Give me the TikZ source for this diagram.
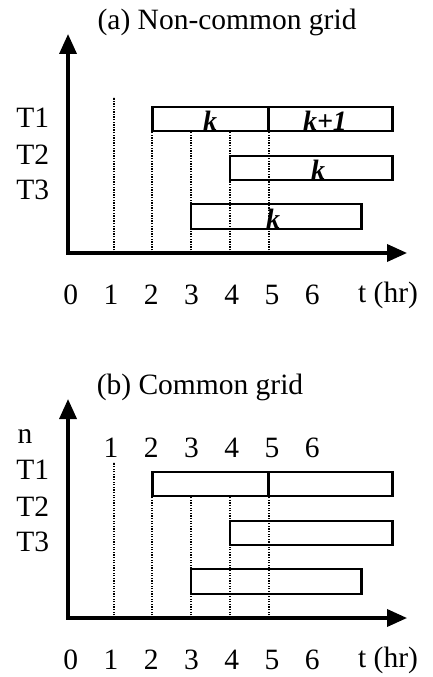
\documentclass[tikz,border=0pt]{standalone}
\usepackage{fontspec}
\setmainfont{Liberation Serif}
\usetikzlibrary{arrows.meta}
\begin{document}
\begin{tikzpicture}[x=38.7pt,y=1pt,
  axis/.style={line width=3.5pt,{Triangle[length=20pt,width=17pt]}-{Triangle[length=20pt,width=17pt]}},
  job/.style={draw,line width=2.6pt},
  gridline/.style={dash pattern=on 1.3pt off 1.3pt,line width=2pt},
  lbl/.style={font=\fontsize{29.5}{32}\selectfont,inner sep=0pt},
  kk/.style={font=\fontsize{28}{30}\selectfont\bfseries\itshape,anchor=base,inner sep=0pt}]
\useasboundingbox (-75pt,-424pt) rectangle (357pt,253pt);
% both panels share axes, jobs, grid lines and time labels
\foreach \p/\dy/\ttl/\tx in {a/0/{(a) Non-common grid}/3.93, b/-365/{(b) Common grid}/3.23} {
  \begin{scope}[yshift=\dy pt]
    \coordinate (\p-o) at (-0.18,0);
    \coordinate (\p-y) at (-0.18,219);
    \coordinate (\p-x) at (8.58,0);
    \draw[axis] (\p-y) -- (\p-o) -- (\p-x);
    % grid lines
    \draw[gridline] (1,0) -- (1,156);
    \foreach \g in {2,...,5} {\draw[gridline] (\g,0) -- (\g,122);}
    % tasks
    \draw[job] (2,122) rectangle (8.2,146);
    \draw[job] (5,122) -- (5,146);
    \draw[job] (4,73) rectangle (8.2,97);
    \draw[job] (3,24) rectangle (7.4,49);
    % time axis labels
    \foreach \i in {0,...,6} {\node[lbl] (\p-t\i) at (\i*1.04-0.11,-42) {\i};}
    \node[lbl] (\p-hr) at (8.09,-42) {t (hr)};
    \node[lbl] (\p-title) at (\tx,231) {\ttl};
  \end{scope}
}
% (a) task labels and k indices
\node[lbl] (a-T1) at (-1.09,135) {T1};
\node[lbl] (a-T2) at (-1.09,98) {T2};
\node[lbl] (a-T3) at (-1.09,63) {T3};
\node[kk] (a-k1) at (3.49,122) {k};
\node[kk] (a-k2) at (6.46,122) {k+1};
\node[kk] (a-k3) at (6.28,73) {k};
\node[kk] (a-k4) at (5.12,24) {k};
% (b) common grid points
\begin{scope}[yshift=-365pt]
  \node[lbl] (b-n) at (-1.29,181) {n};
  \node[lbl] (b-T1) at (-1.09,148) {T1};
  \node[lbl] (b-T2) at (-1.09,111) {T2};
  \node[lbl] (b-T3) at (-1.09,76) {T3};
  \foreach \i in {1,...,6} {\node[lbl] (b-g\i) at (\i*1.04-0.11,170) {\i};}
\end{scope}
\end{tikzpicture}
\end{document}
